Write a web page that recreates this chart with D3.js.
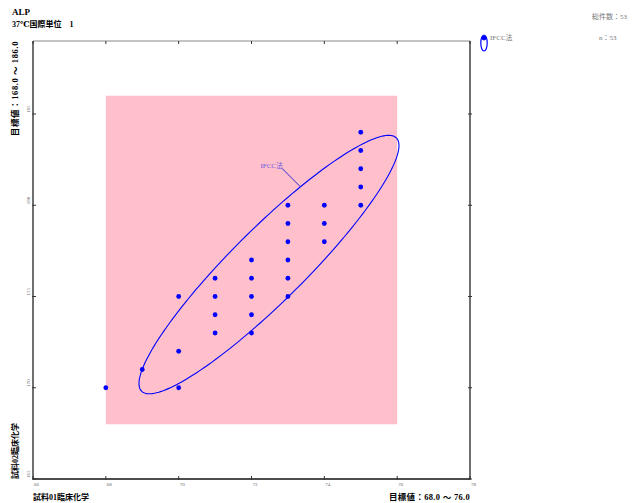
<!DOCTYPE html>
<html>
<head>
<meta charset="utf-8">
<script src="https://cdn.jsdelivr.net/npm/d3@7"></script>
<style>
  html, body { margin: 0; padding: 0; background: #fff; }
  svg { display: block; }
  text { font-family: "Liberation Serif", "DejaVu Serif", "Noto Sans CJK JP", serif; }
</style>
</head>
<body>
<svg id="chart" width="640" height="503"></svg>
<script>
// Sample 01 (x) vs sample 02 (y) results, IFCC method
const xValues = [68, 69, 70, 70, 70, 71, 71, 71, 71, 72, 72, 72, 72, 72, 73, 73, 73, 73, 73, 73, 74, 74, 74, 75, 75, 75, 75, 75];
const yValues = [170, 171, 170, 172, 175, 173, 174, 175, 176, 173, 174, 175, 176, 177, 175, 176, 177, 178, 179, 180, 178, 179, 180, 180, 181, 182, 183, 184];

// Target ranges
const targetX = [68.0, 76.0];
const targetY = [168.0, 186.0];

// Axis domains and ticks
const xDomain = [66, 78];
const yDomain = [165, 189];
const xTicks = [66, 68, 70, 72, 74, 76, 78];
const yTicks = [165, 170, 175, 180, 185];

// Distribution ellipse: centre, half-extents in x and y, phase offset (deg)
const ellipseCenter = [72.48, 176.75];
const ellipseHalf = [3.57, 7.08];
const ellipsePhase = [23];

const methodName = "IFCC法";
const totalCount = [53];
const methodCount = [53];

const svg = d3.select("#chart");
const plotLeft = 33, plotRight = 470, plotTop = 41, plotBottom = 479;

const x = d3.scaleLinear().domain(xDomain).range([plotLeft, plotRight]);
const y = d3.scaleLinear().domain(yDomain).range([plotBottom, plotTop]);

// Target box
svg.append("rect")
  .attr("x", x(targetX[0])).attr("y", y(targetY[1]))
  .attr("width", x(targetX[1]) - x(targetX[0]))
  .attr("height", y(targetY[0]) - y(targetY[1]))
  .attr("fill", "#ffc0cb");

// Frame
svg.append("line").attr("x1", plotLeft).attr("x2", plotRight).attr("y1", plotTop).attr("y2", plotTop)
  .attr("stroke", "#888").attr("stroke-width", 1);
svg.append("line").attr("x1", plotRight).attr("x2", plotRight).attr("y1", plotTop).attr("y2", plotBottom)
  .attr("stroke", "#111").attr("stroke-width", 1.2);
svg.append("line").attr("x1", plotLeft).attr("x2", plotLeft).attr("y1", plotTop).attr("y2", plotBottom)
  .attr("stroke", "#111").attr("stroke-width", 1.2);
svg.append("line").attr("x1", plotLeft).attr("x2", plotRight).attr("y1", plotBottom).attr("y2", plotBottom)
  .attr("stroke", "#111").attr("stroke-width", 1.6);

// Ticks on all sides
const tickG = svg.append("g").attr("stroke", "#333").attr("stroke-width", 1);
xTicks.forEach(v => {
  tickG.append("line").attr("x1", x(v)).attr("x2", x(v)).attr("y1", plotBottom - 3).attr("y2", plotBottom + 1);
  tickG.append("line").attr("x1", x(v)).attr("x2", x(v)).attr("y1", plotTop).attr("y2", plotTop + 3);
});
yTicks.forEach(v => {
  tickG.append("line").attr("x1", plotLeft - 1).attr("x2", plotLeft + 3).attr("y1", y(v)).attr("y2", y(v));
  tickG.append("line").attr("x1", plotRight - 2).attr("x2", plotRight + 2).attr("y1", y(v)).attr("y2", y(v));
});

// Tick labels
svg.append("g").selectAll("text").data(xTicks).join("text")
  .attr("x", d => x(d) + 1).attr("y", plotBottom + 7)
  .attr("font-size", 5).attr("fill", "#666")
  .text(d => d);
svg.append("g").selectAll("text").data(yTicks).join("text")
  .attr("transform", d => `translate(${plotLeft - 3.5},${y(d) - 1}) rotate(-90)`)
  .attr("font-size", 5).attr("fill", "#666")
  .text(d => d);

// Ellipse path
const phi = ellipsePhase[0] * Math.PI / 180;
const ellPts = d3.range(0, 361, 2).map(deg => {
  const t = deg * Math.PI / 180;
  return [x(ellipseCenter[0] + ellipseHalf[0] * Math.cos(t)),
          y(ellipseCenter[1] + ellipseHalf[1] * Math.cos(t - phi))];
});
svg.append("path")
  .attr("d", d3.line().curve(d3.curveLinearClosed)(ellPts))
  .attr("fill", "none").attr("stroke", "#0000ff").attr("stroke-width", 1.1);

// Points
svg.append("g").selectAll("circle").data(xValues.map((v, i) => [v, yValues[i]])).join("circle")
  .attr("cx", d => x(d[0])).attr("cy", d => y(d[1]))
  .attr("r", 2.4).attr("fill", "#0000ff");

// Ellipse label with leader line
const tAnchor = 76 * Math.PI / 180;
const ax = x(ellipseCenter[0] + ellipseHalf[0] * Math.cos(tAnchor));
const ay = y(ellipseCenter[1] + ellipseHalf[1] * Math.cos(tAnchor - phi));
svg.append("line").attr("x1", ax).attr("y1", ay).attr("x2", ax - 18).attr("y2", ay - 18)
  .attr("stroke", "#2a2ad0").attr("stroke-width", 1);
svg.append("text").attr("x", ax - 40).attr("y", ay - 19)
  .attr("font-size", 7).attr("fill", "#6a5ae0").text(methodName);

// Titles
svg.append("text").attr("x", 12).attr("y", 15).attr("font-size", 9).attr("font-weight", "bold").text("ALP");
svg.append("text").attr("x", 12).attr("y", 27).attr("font-size", 8).attr("font-weight", "bold").text("37℃国際単位　1");

svg.append("text").attr("x", 627).attr("y", 19).attr("text-anchor", "end")
  .attr("font-size", 7).attr("fill", "#777").text("総件数：" + totalCount[0]);

// Legend
svg.append("ellipse").attr("cx", 484).attr("cy", 43).attr("rx", 3.2).attr("ry", 8)
  .attr("fill", "none").attr("stroke", "#0000ff").attr("stroke-width", 1.2);
svg.append("circle").attr("cx", 484).attr("cy", 38).attr("r", 2.4).attr("fill", "#0000ff");
svg.append("text").attr("x", 490).attr("y", 40).attr("font-size", 7).attr("fill", "#777").text(methodName);
svg.append("text").attr("x", 599).attr("y", 40).attr("font-size", 7).attr("fill", "#777").text("n：" + methodCount[0]);

// Axis titles
svg.append("text")
  .attr("transform", `translate(18,${plotTop}) rotate(-90)`)
  .attr("text-anchor", "end").attr("font-size", 8.5).attr("font-weight", "bold")
  .attr("letter-spacing", 0.6)
  .text(`目標値：${targetY[0].toFixed(1)} 〜 ${targetY[1].toFixed(1)}`);
svg.append("text")
  .attr("transform", `translate(18,${plotBottom}) rotate(-90)`)
  .attr("font-size", 8).attr("font-weight", "bold")
  .text("試料02臨床化学");
svg.append("text").attr("x", plotLeft).attr("y", 500)
  .attr("font-size", 8).attr("font-weight", "bold").text("試料01臨床化学");
svg.append("text").attr("x", plotRight).attr("y", 500).attr("text-anchor", "end")
  .attr("font-size", 8.5).attr("font-weight", "bold").attr("letter-spacing", 0.3)
  .text(`目標値：${targetX[0].toFixed(1)} 〜 ${targetX[1].toFixed(1)}`);
</script>
</body>
</html>
